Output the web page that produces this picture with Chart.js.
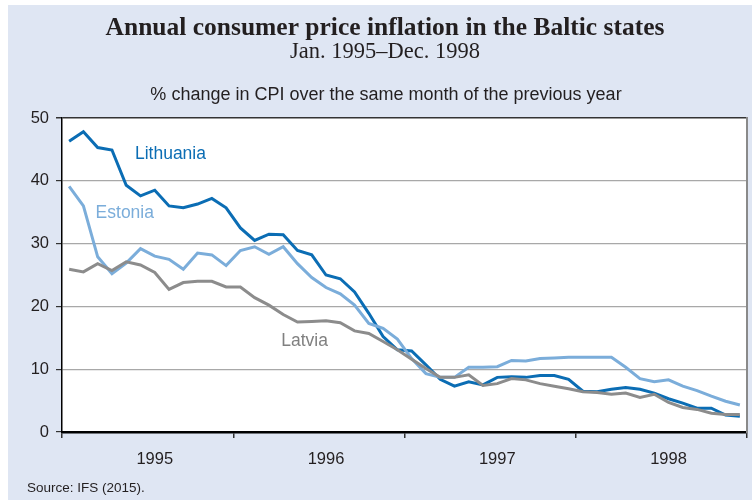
<!DOCTYPE html>
<html>
<head>
<meta charset="utf-8">
<script src="https://cdn.jsdelivr.net/npm/chart.js@4"></script>
<style>
  html, body { margin: 0; padding: 0; background: #ffffff; }
  #wrap { width: 752px; height: 500px; }
</style>
</head>
<body>
<div id="wrap"><canvas id="chart" width="752" height="500"></canvas></div>
<script>
// Monthly data, Jan 1995 - Dec 1998 (% change over same month of previous year)
const years = ['1995', '1996', '1997', '1998'];
const months = [];
years.forEach(y => { for (let m = 1; m <= 12; m++) months.push(y + '-' + String(m).padStart(2, '0')); });

const lithuania = [
    46.3, 47.8, 45.3, 44.9, 39.3, 37.6, 38.5, 36.0, 35.7, 36.3, 37.2, 35.7,
    32.5, 30.5, 31.5, 31.4, 28.9, 28.2, 25.0, 24.4, 22.3, 18.9, 15.2, 13.1,
    12.9, 10.7, 8.4, 7.3, 8.0, 7.5, 8.7, 8.8, 8.7, 9.0, 9.0, 8.4,
    6.5, 6.4, 6.8, 7.1, 6.8, 6.2, 5.3, 4.6, 3.8, 3.8, 2.7, 2.5
];
const estonia = [
    39.1, 36.0, 27.9, 25.2, 26.9, 29.2, 28.0, 27.5, 25.9, 28.5, 28.2, 26.5,
    28.9, 29.5, 28.3, 29.5, 26.8, 24.6, 23.0, 22.0, 20.2, 17.3, 16.5, 14.8,
    11.7, 9.3, 8.7, 8.7, 10.3, 10.3, 10.4, 11.4, 11.3, 11.7, 11.8, 11.9,
    11.9, 11.9, 11.9, 10.3, 8.5, 8.0, 8.3, 7.3, 6.6, 5.7, 4.9, 4.3
];
const latvia = [
    25.9, 25.5, 26.8, 25.7, 27.1, 26.6, 25.4, 22.7, 23.8, 24.0, 24.0, 23.1,
    23.1, 21.4, 20.2, 18.7, 17.5, 17.6, 17.7, 17.4, 16.1, 15.7, 14.4, 13.1,
    11.6, 10.1, 8.7, 8.7, 9.1, 7.4, 7.7, 8.5, 8.3, 7.7, 7.3, 6.9,
    6.4, 6.3, 6.0, 6.2, 5.5, 6.0, 4.7, 3.9, 3.6, 3.0, 2.8, 2.8
];

const yTicks = [0, 10, 20, 30, 40, 50];

const COLORS = {
    lithuania: '#0b6db4',
    estonia: '#7badda',
    latvia: '#8c8c8c',
    panel: '#dfe6f3'
};

// Series labels placed in data coordinates (month index, value)
const seriesLabels = [
    { text: 'Lithuania', color: COLORS.lithuania, at: [7.1, 44.3] },
    { text: 'Estonia', color: COLORS.estonia, at: [3.9, 34.9] },
    { text: 'Latvia', color: '#808080', at: [16.5, 14.4] }
];

const backgroundPlugin = {
    id: 'panelBackground',
    beforeDraw: (chart) => {
        const ctx = chart.ctx;
        const a = chart.chartArea;
        ctx.save();
        ctx.fillStyle = '#ffffff';
        ctx.fillRect(0, 0, chart.width, chart.height);
        ctx.fillStyle = COLORS.panel;
        ctx.fillRect(8, 5, chart.width - 8, chart.height - 5);
        ctx.fillStyle = '#ffffff';
        ctx.fillRect(a.left, a.top, a.right - a.left, a.bottom - a.top);
        ctx.restore();
    }
};

const textPlugin = {
    id: 'chartTexts',
    afterDraw: (chart) => {
        const ctx = chart.ctx;
        const xs = chart.scales.x;
        const ys = chart.scales.y;
        ctx.save();
        ctx.textAlign = 'center';
        ctx.textBaseline = 'alphabetic';
        ctx.fillStyle = '#231f20';
        ctx.font = 'bold 25.5px "Liberation Serif", "Times New Roman", serif';
        ctx.fillText('Annual consumer price inflation in the Baltic states', 385, 35);
        ctx.font = '22.5px "Liberation Serif", "Times New Roman", serif';
        ctx.fillText('Jan. 1995\u2013Dec. 1998', 385, 58);
        ctx.font = '18px "Liberation Sans", Arial, sans-serif';
        ctx.fillText('% change in CPI over the same month of the previous year', 386, 100);

        ctx.textAlign = 'left';
        ctx.font = '13.5px "Liberation Sans", Arial, sans-serif';
        ctx.fillText('Source: IFS (2015).', 27, 492);

        ctx.textAlign = 'center';
        ctx.textBaseline = 'middle';
        ctx.font = '17.5px "Liberation Sans", Arial, sans-serif';
        seriesLabels.forEach(l => {
            ctx.fillStyle = l.color;
            ctx.fillText(l.text, xs.getPixelForValue(l.at[0]), ys.getPixelForValue(l.at[1]));
        });
        ctx.restore();
    }
};

const ctx = document.getElementById('chart').getContext('2d');
const chart = new Chart(ctx, {
    type: 'line',
    data: {
        labels: months,
        datasets: [
            { label: 'Latvia', data: latvia, borderColor: COLORS.latvia, borderWidth: 3, pointRadius: 0, tension: 0 },
            { label: 'Estonia', data: estonia, borderColor: COLORS.estonia, borderWidth: 3, pointRadius: 0, tension: 0 },
            { label: 'Lithuania', data: lithuania, borderColor: COLORS.lithuania, borderWidth: 3, pointRadius: 0, tension: 0 }
        ]
    },
    options: {
        responsive: false,
        animation: false,
        devicePixelRatio: 1,
        layout: { padding: { top: 118, right: 5, left: 0, bottom: 0 } },
        plugins: {
            legend: { display: false },
            title: { display: false },
            tooltip: { enabled: false }
        },
        scales: {
            x: {
                type: 'category',
                offset: true,
                afterFit: (scale) => { scale.height = 68; },
                border: { display: true, color: '#000000', width: 2.5 },
                grid: {
                    offset: true,
                    drawOnChartArea: false,
                    drawTicks: true,
                    tickLength: 6,
                    lineWidth: 1.5,
                    color: (c) => (c.index === undefined || c.index % 12 === 0) ? '#333333' : 'rgba(0,0,0,0)'
                },
                ticks: {
                    autoSkip: false,
                    maxRotation: 0,
                    padding: 12,
                    color: '#231f20',
                    font: { family: '"Liberation Sans", Arial, sans-serif', size: 16.5 },
                    callback: (v, i) => (i % 12 === 6) ? years[Math.floor(i / 12)] : ''
                }
            },
            y: {
                min: 0,
                max: 50,
                afterFit: (scale) => { scale.width = 62; },
                afterBuildTicks: (scale) => { scale.ticks = yTicks.map(v => ({ value: v })); },
                border: { display: true, color: '#000000', width: 1.5 },
                grid: {
                    color: (c) => c.tick && c.tick.value === 50 ? '#333333' : '#a8a8a8',
                    lineWidth: (c) => c.tick && c.tick.value === 50 ? 1.5 : 1.2,
                    tickColor: '#333333',
                    tickLength: 6
                },
                ticks: {
                    padding: 7,
                    color: '#231f20',
                    font: { family: '"Liberation Sans", Arial, sans-serif', size: 16.5 }
                }
            },
            y2: {
                position: 'right',
                min: 0,
                max: 50,
                afterFit: (scale) => { scale.width = 0; },
                border: { display: true, color: '#8a8a8a', width: 2 },
                grid: { display: false },
                ticks: { display: false }
            }
        }
    },
    plugins: [backgroundPlugin, textPlugin]
});
</script>
</body>
</html>
